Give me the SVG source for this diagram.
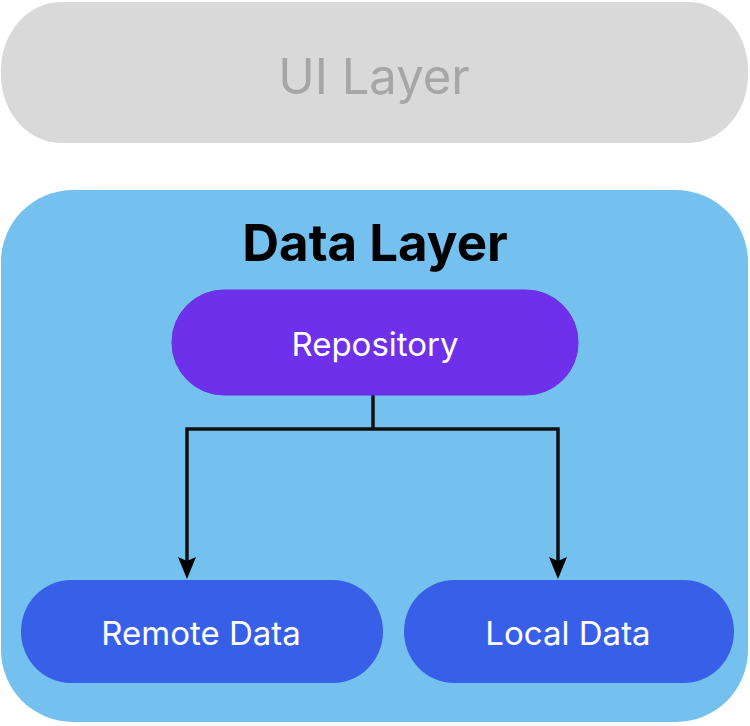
<svg xmlns="http://www.w3.org/2000/svg" width="750" height="726" viewBox="0 0 750 726">
<defs>
<style>
text{font-family:Inter,"Noto Sans","Liberation Sans",sans-serif;text-anchor:middle}
.lbl{fill:#ffffff;font-size:33px}
.conn{fill:none;stroke:#111111;stroke-width:3.5}
.head{fill:#000000}
</style>
</defs>
<g id="ui-layer">
<rect x="1" y="2" width="747" height="141" rx="60" ry="68" fill="#d9d9d9"/>
<text x="374" y="94" font-size="49" fill="#a6a6a6">UI Layer</text>
</g>
<g id="data-layer">
<rect x="1" y="190" width="747" height="532" rx="72" ry="72" fill="#74c1ef"/>
<text x="375" y="261" font-size="51" font-weight="bold" fill="#000">Data Layer</text>
</g>
<g id="connectors">
<path class="conn" d="M373,395 V429"/>
<path class="conn" d="M373,429 H187 V562"/>
<path class="conn" d="M373,429 H558 V562"/>
<path class="head" d="M178,557 L187,561 L196,557 L187,579 Z"/>
<path class="head" d="M549,557 L558,561 L567,557 L558,579 Z"/>
</g>
<g id="repository">
<rect x="172" y="290" width="406" height="105" rx="52" ry="52" fill="#6e30ea" stroke="#6a2fe0" stroke-width="1"/>
<text class="lbl" x="375" y="356">Repository</text>
</g>
<g id="remote-data">
<rect x="21" y="580" width="362" height="103" rx="50" ry="52" fill="#385fe8"/>
<text class="lbl" x="201" y="645">Remote Data</text>
</g>
<g id="local-data">
<rect x="404" y="580" width="330" height="103" rx="50" ry="52" fill="#385fe8"/>
<text class="lbl" x="568" y="645">Local Data</text>
</g>
</svg>
